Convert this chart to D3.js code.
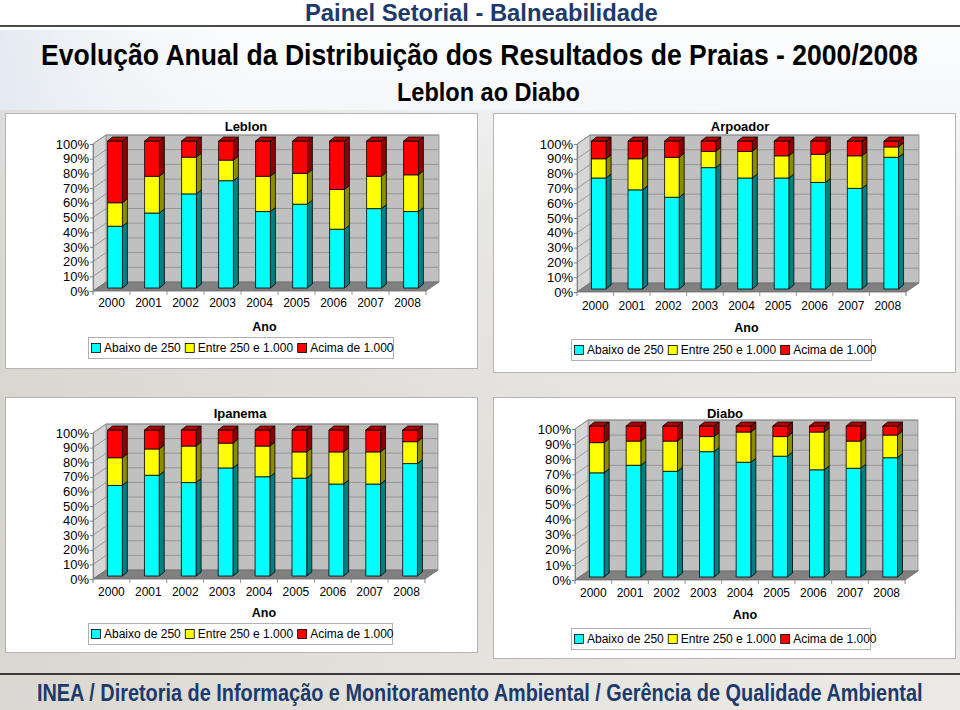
<!DOCTYPE html>
<html><head><meta charset="utf-8">
<script src="https://cdn.jsdelivr.net/npm/d3@7"></script>
<style>body{margin:0;background:#fff;} svg{display:block;}</style>
</head><body>
<svg id="c" width="960" height="710"></svg>
<script>
// ---------- DATA ----------
const years = ["2000","2001","2002","2003","2004","2005","2006","2007","2008"];
const yTicks = [0,10,20,30,40,50,60,70,80,90,100];
const seriesNames = ["Abaixo de 250","Entre 250 e 1.000","Acima de 1.000"];
const beachNames = ["Leblon","Arpoador","Ipanema","Diabo"];

const leblonAbaixo = [42, 51, 64, 73, 52, 57, 40, 54, 52];
const leblonEntre  = [16, 25, 25, 14, 24, 21, 27, 22, 25];
const leblonAcima  = [42, 24, 11, 13, 24, 22, 33, 24, 23];

const arpoadorAbaixo = [75, 67, 62, 82, 75, 75, 72, 68, 89];
const arpoadorEntre  = [13, 21, 27, 11, 18, 15, 19, 22,  7];
const arpoadorAcima  = [12, 12, 11,  7,  7, 10,  9, 10,  4];

const ipanemaAbaixo = [62, 69, 64, 74, 68, 67, 63, 63, 77];
const ipanemaEntre  = [19, 18, 25, 17, 21, 18, 22, 22, 15];
const ipanemaAcima  = [19, 13, 11,  9, 11, 15, 15, 15,  8];

const diaboAbaixo = [69, 74, 70, 83, 76, 80, 71, 72, 79];
const diaboEntre  = [20, 16, 20, 10, 20, 13, 25, 18, 15];
const diaboAcima  = [11, 10, 10,  7,  4,  7,  4, 10,  6];

const headerText = "Painel Setorial - Balneabilidade";
const titleText = "Evolução Anual da Distribuição dos Resultados de Praias - 2000/2008";
const subtitleText = "Leblon ao Diabo";
const footerText = "INEA / Diretoria de Informação e Monitoramento Ambiental / Gerência de Qualidade Ambiental";
const axisTitle = "Ano";

// ---------- STYLE / LAYOUT ----------
const frontCol = ["#00FFFF","#FFFF00","#FF0000"];
const sideCol  = ["#008080","#8C8C00","#8B0000"];
const topCol   = ["#00B0B0","#B0B000","#B00000"];
const FONT = "'Liberation Sans', Arial, Helvetica, sans-serif";

const panels = [
  {name:beachNames[0], data:[leblonAbaixo,leblonEntre,leblonAcima],
   box:[5,113,472,255], x0:93, x1:426, yTop:144, yBot:291, titleY:126, titleX:246,
   yearY:303, anoY:327, legX:88, legW:305, legY:348},
  {name:beachNames[1], data:[arpoadorAbaixo,arpoadorEntre,arpoadorAcima],
   box:[493,113,462,259], x0:577, x1:906, yTop:144, yBot:292, titleY:126, titleX:740,
   yearY:306, anoY:328, legX:571, legW:300, legY:350},
  {name:beachNames[2], data:[ipanemaAbaixo,ipanemaEntre,ipanemaAcima],
   box:[5,397,472,255], x0:93, x1:425, yTop:433, yBot:579, titleY:413, titleX:240,
   yearY:592, anoY:613, legX:88, legW:304, legY:634},
  {name:beachNames[3], data:[diaboAbaixo,diaboEntre,diaboAcima],
   box:[493,397,462,261], x0:575, x1:905, yTop:429, yBot:580, titleY:413, titleX:725,
   yearY:593, anoY:615, legX:571, legW:299, legY:639}
];

const svg = d3.select("#c");

// background
const defs = svg.append("defs");
const bg = defs.append("linearGradient").attr("id","bg").attr("x1",0).attr("y1",0).attr("x2",0).attr("y2",1);
bg.append("stop").attr("offset","0%").attr("stop-color","#ffffff");
bg.append("stop").attr("offset","14%").attr("stop-color","#f6f8fa");
bg.append("stop").attr("offset","30%").attr("stop-color","#ebebea");
bg.append("stop").attr("offset","70%").attr("stop-color","#e4e1dc");
bg.append("stop").attr("offset","100%").attr("stop-color","#e9e7e2");
const bg2 = defs.append("linearGradient").attr("id","bg2").attr("x1",0).attr("y1",0).attr("x2",1).attr("y2",0);
bg2.append("stop").attr("offset","0%").attr("stop-color","#cfcac2").attr("stop-opacity",0.55);
bg2.append("stop").attr("offset","45%").attr("stop-color","#d8d4cd").attr("stop-opacity",0.25);
bg2.append("stop").attr("offset","100%").attr("stop-color","#ffffff").attr("stop-opacity",0.1);
const bg3 = defs.append("linearGradient").attr("id","bg3").attr("x1",0).attr("y1",0).attr("x2",1).attr("y2",0);
bg3.append("stop").attr("offset","0%").attr("stop-color","#dfe6ee").attr("stop-opacity",0.8);
bg3.append("stop").attr("offset","35%").attr("stop-color","#ffffff").attr("stop-opacity",0);
svg.append("rect").attr("width",960).attr("height",710).attr("fill","url(#bg)");
svg.append("rect").attr("y",30).attr("width",960).attr("height",80).attr("fill","url(#bg3)");
svg.append("rect").attr("y",110).attr("width",960).attr("height",600).attr("fill","url(#bg2)");

// condensed header text: glyph height = size, total width = w
function fitText(t, x, y, w, size, color){
  const g = svg.append("g");
  const el = g.append("text").attr("x",0).attr("y",0)
    .attr("font-family",FONT).attr("font-weight","bold").attr("font-size",size)
    .attr("fill",color).text(t);
  const nat = el.node().getComputedTextLength();
  const s = w / nat;
  el.attr("font-size", size*s);
  const base = y + size*0.36;
  g.attr("transform",`translate(${x},${base}) scale(1,${1/s})`);
}
fitText(headerText, 305, 12, 353, 24, "#1c3a6b");
svg.append("line").attr("x1",0).attr("x2",960).attr("y1",26).attr("y2",26).attr("stroke","#4a4a4a").attr("stroke-width",2);
fitText(titleText, 41, 55, 877, 29, "#000");
fitText(subtitleText, 397, 92, 183, 26, "#000");
svg.append("line").attr("x1",0).attr("x2",960).attr("y1",674).attr("y2",674).attr("stroke","#3a3a3a").attr("stroke-width",2);
fitText(footerText, 37, 693, 886, 23, "#1c3a6b");

// ---------- CHART ----------
const DX = 13, DY = -9;      // wall depth
const BOX = 3.5, BOY = -3;   // bar offset inside depth
const BDX = 5, BDY = -4;     // bar depth

function poly(g, pts, fill, stroke, sw){
  g.append("polygon").attr("points", pts.map(p=>p.join(",")).join(" "))
    .attr("fill",fill).attr("stroke",stroke||"none").attr("stroke-width",sw||0.8)
    .attr("stroke-linejoin","round");
}

panels.forEach(p=>{
  const g = svg.append("g");
  const [bx,by,bw,bh] = p.box;
  g.append("rect").attr("x",bx+0.5).attr("y",by+0.5).attr("width",bw).attr("height",bh)
    .attr("fill","#fff").attr("stroke","#b4b4b4").attr("stroke-width",1);

  const x = d3.scaleBand().domain(years).range([p.x0,p.x1]).paddingInner(0).paddingOuter(0);
  const y = d3.scaleLinear().domain([0,100]).range([p.yBot,p.yTop]);
  const bw0 = x.bandwidth()*0.4;

  // walls
  poly(g, [[p.x0+DX,y(100)+DY],[p.x1+DX,y(100)+DY],[p.x1+DX,y(0)+DY],[p.x0+DX,y(0)+DY]], "#c0c0c0", "#8a8a8a", 0.8);
  poly(g, [[p.x0,y(0)],[p.x0,y(100)],[p.x0+DX,y(100)+DY],[p.x0+DX,y(0)+DY]], "#d6d6d6", "#8a8a8a", 0.8);
  poly(g, [[p.x0,y(0)],[p.x1,y(0)],[p.x1+DX,y(0)+DY],[p.x0+DX,y(0)+DY]], "#808080", "#6a6a6a", 0.8);

  // gridlines
  yTicks.filter(t=>t>0).forEach(t=>{
    g.append("line").attr("x1",p.x0+DX).attr("x2",p.x1+DX).attr("y1",y(t)+DY).attr("y2",y(t)+DY)
      .attr("stroke","#8a8a8a").attr("stroke-width",0.8);
    g.append("line").attr("x1",p.x0).attr("x2",p.x0+DX).attr("y1",y(t)).attr("y2",y(t)+DY)
      .attr("stroke","#8a8a8a").attr("stroke-width",0.8);
  });

  // y axis
  const ya = g.append("g").attr("transform",`translate(${p.x0},0)`)
    .call(d3.axisLeft(y).tickValues(yTicks).tickFormat(d=>d+"%").tickSize(3).tickPadding(1));
  ya.select(".domain").attr("stroke","#808080");
  ya.selectAll(".tick line").attr("stroke","#808080");
  ya.selectAll(".tick text").attr("font-family",FONT).attr("font-size",13).attr("fill","#000");

  // x axis
  const xa = g.append("g").attr("transform",`translate(0,${p.yBot})`)
    .call(d3.axisBottom(x).tickSize(0));
  xa.select(".domain").remove();
  xa.selectAll(".tick text").attr("font-family",FONT).attr("font-size",12).attr("fill","#000")
    .attr("dy","0.35em").attr("y", p.yearY - p.yBot);
  years.slice(1).forEach(yr=>{
    g.append("line").attr("x1",x(yr)).attr("x2",x(yr)).attr("y1",p.yBot).attr("y2",p.yBot+4)
      .attr("stroke","#808080").attr("stroke-width",0.8);
  });
  g.append("line").attr("x1",p.x0).attr("x2",p.x0).attr("y1",p.yBot).attr("y2",p.yBot+4).attr("stroke","#808080");
  g.append("line").attr("x1",p.x1).attr("x2",p.x1).attr("y1",p.yBot).attr("y2",p.yBot+4).attr("stroke","#808080");

  // bars
  years.forEach((yr,i)=>{
    const xl = x(yr) + (x.bandwidth()-bw0)/2 + BOX;
    const xr = xl + bw0;
    let cum = 0;
    p.data.forEach((arr,s)=>{
      const v0 = cum, v1 = cum + arr[i];
      cum = v1;
      const yb = y(v0)+BOY, yt = y(v1)+BOY;
      poly(g, [[xr,yb],[xr+BDX,yb+BDY],[xr+BDX,yt+BDY],[xr,yt]], sideCol[s], "#000", 0.8);
      poly(g, [[xl,yb],[xr,yb],[xr,yt],[xl,yt]], frontCol[s], "#000", 0.8);
      if (s === p.data.length-1){
        poly(g, [[xl,yt],[xr,yt],[xr+BDX,yt+BDY],[xl+BDX,yt+BDY]], topCol[s], "#000", 0.8);
      }
    });
  });

  // titles
  g.append("text").attr("x",p.titleX).attr("y",p.titleY).attr("text-anchor","middle")
    .attr("dominant-baseline","central").attr("font-family",FONT).attr("font-weight","bold")
    .attr("font-size",13).text(p.name);
  g.append("text").attr("x",(p.x0+p.x1)/2 + 5).attr("y",p.anoY).attr("text-anchor","middle")
    .attr("dominant-baseline","central").attr("font-family",FONT).attr("font-weight","bold")
    .attr("font-size",12.5).text(axisTitle);

  // legend
  const lg = g.append("g");
  lg.append("rect").attr("x",p.legX+0.5).attr("y",p.legY-10.5).attr("width",p.legW).attr("height",21)
    .attr("fill","#fff").attr("stroke","#b0b0b0");
  let lx = p.legX + 3;
  seriesNames.forEach((n,s)=>{
    lg.append("rect").attr("x",lx+0.5).attr("y",p.legY-4.5).attr("width",9).attr("height",9)
      .attr("fill",frontCol[s]).attr("stroke","#000").attr("stroke-width",0.8);
    const t = lg.append("text").attr("x",lx+13).attr("y",p.legY).attr("dominant-baseline","central")
      .attr("font-family",FONT).attr("font-size",12).text(n);
    lx += 13 + t.node().getComputedTextLength() + 4;
  });
});
</script>
</body></html>
